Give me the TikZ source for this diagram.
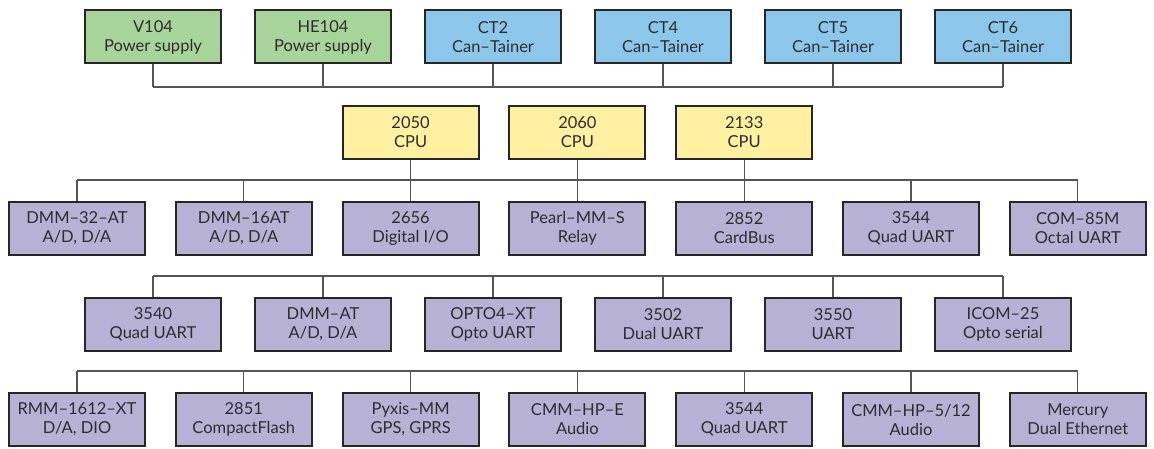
\documentclass[tikz,border=0pt]{standalone}
\usepackage{fontspec}
\setmainfont{Lato}
\usepackage{tikz}
\usetikzlibrary{positioning}

\definecolor{psgreen}{RGB}{167,212,155}
\definecolor{canblue}{RGB}{140,198,234}
\definecolor{cpuyellow}{RGB}{255,240,162}
\definecolor{modpurple}{RGB}{182,177,213}
\definecolor{edge}{RGB}{38,38,38}
\definecolor{wire}{RGB}{85,85,85}
\definecolor{ink}{RGB}{45,45,45}

\tikzset{
  board/.style={draw=edge, line width=2pt, minimum width=136pt, minimum height=53pt,
    inner sep=0pt, align=center, text=ink, font=\fontsize{16.5}{19}\selectfont},
  bus/.style={draw=wire, line width=1.3pt}
}

\begin{document}
\begin{tikzpicture}[x=1pt, y=-1pt]
    \useasboundingbox (0,0) rectangle (1154,449);

    \coordinate (busA) at (0,87);
    \coordinate (busB) at (0,180);
    \coordinate (busC) at (0,276);
    \coordinate (busD) at (0,371);

    % power supplies and enclosures
    \foreach \i/\col/\up/\dn in {0/psgreen/V104/Power supply, 1/psgreen/HE104/Power supply,
        2/canblue/CT2/Can–Tainer, 3/canblue/CT4/Can–Tainer,
        4/canblue/CT5/Can–Tainer, 5/canblue/CT6/Can–Tainer}
    \node[board, fill=\col] (top\i) at ({153+170*\i},37) {\up\\\dn};

    % CPU boards
    \foreach \i/\up in {2/2050, 3/2060, 4/2133}
    \node[board, fill=cpuyellow] (cpu\i) at ({77+166.8*\i},132.5) {\up\\CPU};

    % I/O modules
    \foreach \i/\up/\dn in {0/DMM–32–AT/{A/D, D/A}, 1/DMM–16AT/{A/D, D/A}, 2/2656/{Digital I/O},
        3/Pearl–MM–S/Relay, 4/2852/CardBus, 5/3544/Quad UART, 6/COM–85M/Octal UART}
    \node[board, fill=modpurple] (mod\i) at ({77+166.8*\i},228.5) {\up\\\dn};

    \foreach \i/\up/\dn in {0/3540/Quad UART, 1/DMM–AT/{A/D, D/A}, 2/OPTO4–XT/Opto UART,
        3/3502/Dual UART, 4/3550/UART, 5/ICOM–25/Opto serial}
    \node[board, fill=modpurple] (ser\i) at ({153+170*\i},324.5) {\up\\\dn};

    \foreach \i/\up/\dn in {0/RMM–1612–XT/{D/A, DIO}, 1/2851/CompactFlash, 2/Pyxis–MM/{GPS, GPRS},
        3/CMM–HP–E/Audio, 4/3544/Quad UART, 5/{CMM–HP–5/12}/Audio, 6/Mercury/Dual Ethernet}
    \node[board, fill=modpurple] (ext\i) at ({77+166.8*\i},419.5) {\up\\\dn};

    % buses
    \foreach \i in {0,...,5}
    \draw[bus] (top\i) -- (top\i |- busA);
    \draw[bus] (top0 |- busA) -- (top5 |- busA);

    \foreach \i in {2,3,4}
    \draw[bus] (cpu\i) -- (mod\i);
    \foreach \i in {0,1,5,6}
    \draw[bus] (mod\i) -- (mod\i |- busB);
    \draw[bus] (mod0 |- busB) -- (mod6 |- busB);

    \foreach \i in {0,...,5}
    \draw[bus] (ser\i) -- (ser\i |- busC);
    \draw[bus] (ser0 |- busC) -- (ser5 |- busC);

    \foreach \i in {0,...,6}
    \draw[bus] (ext\i) -- (ext\i |- busD);
    \draw[bus] (ext0 |- busD) -- (ext6 |- busD);
\end{tikzpicture}
\end{document}
